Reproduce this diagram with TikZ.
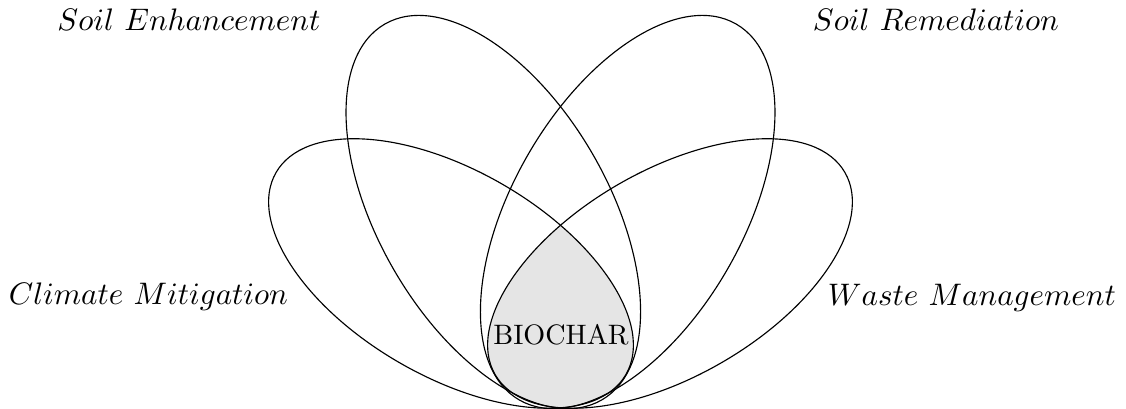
\documentclass[tikz,border=0pt]{standalone}
\begin{document}
\begin{tikzpicture}[x=0.352pt,y=0.352pt,
  petal/.style={draw=black, line width=0.4pt},
  lab/.style={inner sep=0pt, anchor=base, font=\fontsize{10.95}{13}\selectfont}]
\useasboundingbox (0,0) rectangle (1126,409);
\coordinate (cil) at (493.3,197);
\coordinate (cir) at (627.7,197);
\coordinate (col) at (451,135.5);
\coordinate (cor) at (670,135.5);
\begin{scope}
  \clip[rotate around={30:(cil)}] (cil) ellipse [x radius=115, y radius=217];
  \clip[rotate around={-30:(cir)}] (cir) ellipse [x radius=115, y radius=217];
  \clip[rotate around={60:(col)}] (col) ellipse [x radius=103, y radius=202];
  \fill[black!10, rotate around={-60:(cor)}] (cor) ellipse [x radius=103, y radius=202];
\end{scope}
\draw[petal, rotate around={30:(cil)}] (cil) ellipse [x radius=115, y radius=217];
\draw[petal, rotate around={-30:(cir)}] (cir) ellipse [x radius=115, y radius=217];
\draw[petal, rotate around={60:(col)}] (col) ellipse [x radius=103, y radius=202];
\draw[petal, rotate around={-60:(cor)}] (cor) ellipse [x radius=103, y radius=202];
\node[inner sep=0pt, anchor=base, font=\fontsize{9.9}{11}\selectfont] (bio) at (561,64) {BIOCHAR};
\node[lab] (se) at (189,378) {$Soil\ Enhancement$};
\node[lab] (sr) at (936,378) {$Soil\ Remediation$};
\node[lab] (cm) at (148.5,104) {$Climate\ Mitigation$};
\node[lab] (wm) at (972,103) {$Waste\ Management$};
\end{tikzpicture}
\end{document}
